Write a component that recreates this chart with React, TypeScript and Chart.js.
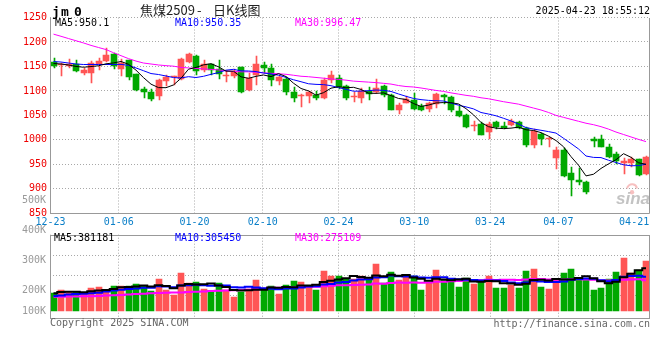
import React, { useEffect, useRef } from "react";
import { Chart, registerables } from "chart.js";
Chart.register(...registerables);

// ---------------- data ----------------
const dates = ["12-23","12-24","12-25","12-26","12-27","12-30","12-31","01-02","01-03","01-06","01-07","01-08","01-09","01-10","01-13","01-14","01-15","01-16","01-17","01-20","01-21","01-22","01-23","01-24","01-27","02-05","02-06","02-07","02-10","02-11","02-12","02-13","02-14","02-17","02-18","02-19","02-20","02-21","02-24","02-25","02-26","02-27","02-28","03-03","03-04","03-05","03-06","03-07","03-10","03-11","03-12","03-13","03-14","03-17","03-18","03-19","03-20","03-21","03-24","03-25","03-26","03-27","03-28","03-31","04-01","04-02","04-03","04-07","04-08","04-09","04-10","04-11","04-14","04-15","04-16","04-17","04-18","04-21","04-22","04-23"];
const xTickLabels = ["12-23","01-06","01-20","02-10","02-24","03-10","03-24","04-07","04-21"];

const openP = [1160,1152,1151,1154,1137,1137,1156,1162,1176,1145,1163,1134,1103,1098,1090,1120,1128,1125,1159,1171,1143,1154,1144,1130,1131,1148,1101,1132,1152,1146,1120,1125,1097,1089,1090,1091,1085,1122,1127,1110,1087,1085,1100,1098,1111,1091,1062,1076,1082,1070,1064,1073,1092,1087,1060,1051,1028,1032,1017,1037,1029,1031,1037,1024,989,1012,1001,962,980,933,918,913,1002,1002,985,972,953,953,960,931];
const closeP = [1151,1154,1154,1141,1142,1158,1162,1174,1150,1157,1129,1102,1098,1083,1122,1128,1130,1166,1176,1140,1154,1142,1134,1132,1139,1097,1127,1154,1146,1122,1128,1097,1086,1092,1097,1085,1122,1132,1107,1086,1090,1100,1094,1105,1091,1062,1071,1084,1063,1062,1075,1093,1088,1062,1049,1027,1030,1010,1032,1026,1024,1039,1025,989,1019,1002,1003,980,926,918,914,894,997,985,965,956,956,960,929,966];
const highP = [1168,1157,1165,1163,1146,1161,1168,1188,1177,1166,1164,1135,1108,1104,1124,1132,1131,1168,1178,1174,1164,1156,1164,1140,1145,1149,1137,1171,1160,1154,1131,1128,1107,1094,1099,1100,1127,1140,1132,1112,1097,1105,1108,1124,1113,1093,1076,1090,1095,1073,1078,1095,1093,1089,1070,1053,1039,1037,1036,1038,1037,1043,1039,1026,1022,1014,1005,985,983,945,943,916,1005,1009,992,975,963,965,961,967];
const lowP = [1146,1130,1146,1139,1132,1117,1142,1160,1144,1130,1122,1100,1085,1080,1081,1110,1112,1123,1158,1132,1138,1132,1124,1119,1127,1095,1100,1112,1137,1110,1113,1091,1077,1067,1076,1082,1084,1117,1104,1082,1078,1076,1082,1096,1088,1061,1053,1075,1061,1058,1056,1066,1073,1056,1047,1024,1019,1009,1001,1022,1022,1029,1022,985,983,990,985,941,924,886,907,890,985,985,962,951,931,945,926,929];

const ma5 = [1156,1155,1153,1150,1148.4,1149.8,1151.4,1155.4,1157.2,1160.2,1154.4,1142.4,1127.2,1113.8,1106.8,1106.6,1112.2,1125.8,1144.4,1148,1153.2,1155.6,1149.2,1140.4,1140.2,1128.8,1125.8,1129.8,1132.6,1129.2,1135.4,1129.4,1115.8,1105,1100,1091.4,1096.4,1105.6,1108.6,1106.4,1107.4,1103,1095.4,1095,1096,1090.4,1084.6,1082.6,1074.2,1068.4,1071,1075.4,1076.2,1076,1073.4,1063.8,1051.2,1035.6,1027,1024,1023,1024,1026,1020.6,1019.2,1014.8,1007.6,998.6,986,965.8,948.2,926.4,929.8,941.6,951,959.4,971.8,964.4,953.2,950.1];
const ma10 = [1160,1159,1157,1155,1154,1154,1154,1154,1154,1154.3,1152.1,1146.9,1141.3,1135.5,1133.5,1130.5,1127.3,1126.5,1129.1,1127.4,1129.9,1133.9,1137.5,1142.4,1144.1,1141,1140.7,1139.5,1136.5,1134.7,1132.1,1127.6,1122.8,1118.8,1114.6,1113.4,1112.9,1110.7,1106.8,1103.2,1099.4,1099.7,1100.5,1101.8,1101.2,1098.9,1093.8,1089,1084.6,1082.2,1080.7,1080,1079.4,1075.1,1070.9,1067.4,1063.3,1055.9,1052.8,1049.2,1044.1,1038.7,1032.4,1025.1,1022.1,1019.6,1016.9,1013.9,1003.3,992.5,981.5,967,964.2,963.8,958.4,953.8,949.1,947.1,947.4,950.35];
const ma30 = [1216,1211.6,1207,1202.5,1198,1193,1188.7,1184.5,1178,1172,1166,1161,1157,1155,1153,1151.6,1150.6,1148,1147,1146,1145,1144,1143,1141,1140,1139,1139,1138,1137,1136,1135,1134,1132,1130,1129,1127.5,1126,1124.5,1123.5,1122,1120,1119,1118,1117,1115.5,1114,1111,1109,1108,1106,1103.5,1101,1099,1096,1093.5,1091,1089,1086,1084,1081,1078,1075.5,1073,1069,1065,1061,1056,1050,1046,1042,1038,1034,1031,1027,1022,1016,1011,1006,1001,996.47];

// volume in thousands (lots)
const volume = [160,189,169,174,154,209,216,189,225,225,225,242,225,180,286,189,145,342,254,260,198,180,254,189,127,169,198,278,189,225,154,233,269,260,225,189,360,316,316,286,286,316,278,422,254,348,278,307,316,189,263,366,278,286,218,298,245,263,316,209,209,233,209,360,377,218,198,278,342,377,278,278,189,209,289,348,475,342,369,448];
const volMa5 = [160,172,173,173,169.2,179,184.4,188.4,198.6,212.8,216,221.2,228.4,219.4,231.6,224.4,205,228.4,243.2,238,239.8,246.8,229.2,216.2,189.6,183.8,187.4,192.2,192.2,211.8,208.8,215.8,214,228.2,228.2,235.2,260.6,270,281.2,293.4,312.8,304,296.4,317.6,311.2,323.6,316,321.8,300.6,287.6,270.6,288.2,282.4,276.4,282.2,289.2,265,262,268,266.2,248.4,246,235.2,244,277.6,279.4,272.4,286.2,282.6,282.6,294.6,310.6,292.8,266.2,248.6,262.6,302,332.6,364.6,381.181];
const volMa10 = [137,140,150,154,156,160,165,175,185,191,197.5,202.8,208.4,209,222.2,220.2,213.1,228.4,231.3,234.8,232.1,225.9,228.8,229.7,213.8,211.8,217.1,210.7,204.2,200.7,196.3,201.6,203.1,210.2,220,222,238.2,242,254.7,260.8,274,282.3,283.2,299.4,302.3,318.2,310,309.1,309.1,299.4,297.1,302.1,302.1,288.5,284.9,279.9,276.6,272.2,272.2,274.2,268.8,255.5,248.6,256,271.9,263.9,259.2,260.7,263.3,280.1,287,291.5,289.5,274.4,265.6,278.6,306.3,312.7,315.4,305.45];
const volMa30 = [130,130,131,132,133,135,137,140,143,146,150,154,157,160,162,164,166,168,171,174,177,180,182,184,186,189,192,196,201,208.8,208.6,210.1,213.4,216.3,218.7,218,222.8,227,230.1,232.1,234.1,236.6,238.4,246.4,245.4,250.7,255.1,253.9,256,253.6,255.8,262,262.8,266,269.1,273.4,274.9,274.4,278.7,278.1,280,280,278,281.3,286.4,287.3,281.9,280.7,281.5,284.6,284.3,283,280.1,273,274.1,274.1,280.7,281.9,283.6,275.109];
const volGridTicks = [142, 319, 492];
const volAxisLabels = ["500K", "400K", "300K", "200K", "100K"];

const titleCode = "jm0";
const titleText = "焦煤2509 - 日K线图";
const timeStamp = "2025-04-23 18:55:12";
const priceLegend = ["MA5:950.1", "MA10:950.35", "MA30:996.47"];
const volLegend = ["MA5:381181", "MA10:305450", "MA30:275109"];

// ---------------- styles ----------------
const UP = "#ff5555";
const DOWN = "#00a800";
const GRID = "#a8a8a8";
const FRAME = "#999999";
const MA_COLORS = ["#000000", "#0000ff", "#ff00ff"];
const MONO = "'DejaVu Sans Mono', monospace";

const idx = dates.map((_, i) => i);
const candleColors = idx.map((i) => (closeP[i] >= openP[i] ? UP : DOWN));
const tickIdx = xTickLabels.map((l) => dates.indexOf(l));

const X_MIN = -0.4667, X_MAX = 79.4; // candle axis
const XG_MIN = -0.066, XG_MAX = 78.96; // date/grid axis

function txt(ctx: CanvasRenderingContext2D, s: string, x: number, y: number, color: string, font: string, align: CanvasTextAlign = "left") {
  ctx.fillStyle = color;
  ctx.font = font;
  ctx.textAlign = align;
  ctx.textBaseline = "middle";
  ctx.fillText(s, x, y);
}

// snap bar elements (positioned by the scales) onto whole pixels for crisp candles
const pixelSnap = {
  id: "pixelSnap",
  afterDatasetsUpdate(chart: any) {
    chart.data.datasets.forEach((ds: any, di: number) => {
      const meta = chart.getDatasetMeta(di);
      if (meta.type !== "bar") return;
      const thin = ds.barThickness === 1;
      meta.data.forEach((el: any) => {
        el.x = Math.round(el.x) + (thin ? 0.5 : 0);
        el.y = Math.round(el.y);
        el.base = Math.round(el.base);
      });
    });
  },
};

const xAxes = (showLabels: boolean) => ({
  x: { type: "linear", min: X_MIN, max: X_MAX, display: false, offset: false, grid: { offset: false } },
  xg: {
    type: "linear",
    position: "bottom",
    min: XG_MIN,
    max: XG_MAX,
    offset: false,
    afterBuildTicks: (s: any) => { s.ticks = tickIdx.map((v) => ({ value: v })); },
    afterFit: (s: any) => { s.height = showLabels ? 16 : 0; },
    ticks: {
      display: showLabels,
      autoSkip: false,
      maxRotation: 0,
      padding: 3,
      color: "#0a7fc8",
      font: { family: MONO, size: 10 },
      callback: (v: any) => dates[v] ?? "",
    },
    grid: {
      offset: false,
      drawTicks: false,
      lineWidth: 1,
      color: (c: any) => (c.tick && c.tick.value === tickIdx[tickIdx.length - 1] ? "rgba(0,0,0,0)" : GRID),
    },
    border: { display: false, dash: [1, 2] },
  },
});

const mainOverlay = {
  id: "mainOverlay",
  beforeDatasetsDraw(chart: any) {
    const ctx = chart.ctx as CanvasRenderingContext2D;
    const a = chart.chartArea;
    ctx.save();
    // sina watermark
    ctx.strokeStyle = "rgba(240,140,140,0.55)";
    ctx.lineWidth = 2;
    ctx.beginPath();
    ctx.arc(a.right - 17, a.bottom - 24, 5, Math.PI * 1.05, Math.PI * 1.95);
    ctx.stroke();
    ctx.fillStyle = "rgba(240,140,140,0.55)";
    ctx.beginPath();
    ctx.arc(a.right - 17, a.bottom - 21, 2.2, 0, Math.PI * 2);
    ctx.fill();
    ctx.fillStyle = "rgba(175,175,175,0.75)";
    ctx.font = "italic bold 17px 'Liberation Sans', sans-serif";
    ctx.textAlign = "right";
    ctx.textBaseline = "alphabetic";
    ctx.fillText("sina", a.right + 1, a.bottom - 9);
    ctx.restore();
  },
  afterDatasetsDraw(chart: any) {
    const ctx = chart.ctx as CanvasRenderingContext2D;
    const a = chart.chartArea;
    const L = Math.round(a.left) + 0.5, R = Math.round(a.right) + 0.5;
    const T = Math.round(a.top), B = Math.round(a.bottom) + 0.5;
    ctx.save();
    ctx.strokeStyle = FRAME;
    ctx.lineWidth = 1;
    ctx.setLineDash([]);
    ctx.beginPath();
    ctx.moveTo(L, T); ctx.lineTo(L, B); ctx.lineTo(R, B); ctx.lineTo(R, T);
    ctx.stroke();
    ctx.restore();
  },
  afterDraw(chart: any) {
    const ctx = chart.ctx as CanvasRenderingContext2D;
    const a = chart.chartArea;
    ctx.save();
    const codeX = [52, 61, 74];
    titleCode.split("").forEach((ch, k) => {
      ctx.fillStyle = "#000";
      ctx.font = `bold 13px ${MONO}`;
      ctx.textAlign = "left";
      ctx.textBaseline = "alphabetic";
      ctx.fillText(ch, codeX[k], 16);
    });
    const parts = titleText.split(" ");
    const partX = [140, 197, 213];
    ctx.fillStyle = "#222";
    ctx.font = "13px 'Noto Sans CJK SC', sans-serif";
    ctx.textAlign = "left";
    ctx.textBaseline = "alphabetic";
    parts.forEach((p, k) => ctx.fillText(p, partX[k] ?? 140, 15));
    txt(ctx, timeStamp, 650, 11.5, "#000", `10px ${MONO}`, "right");
    const lx = [a.left + 5, a.left + 125, a.left + 245];
    priceLegend.forEach((s, k) => txt(ctx, s, lx[k], a.top + 6, MA_COLORS[k], `10px ${MONO}`));
    ctx.restore();
  },
};

const volOverlay = {
  id: "volOverlay",
  afterDatasetsDraw(chart: any) {
    const ctx = chart.ctx as CanvasRenderingContext2D;
    const a = chart.chartArea;
    const L = Math.round(a.left) + 0.5, R = Math.round(a.right) + 0.5;
    const T = Math.round(a.top) + 0.5, B = Math.round(a.bottom) + 0.5;
    ctx.save();
    ctx.strokeStyle = FRAME;
    ctx.lineWidth = 1;
    ctx.setLineDash([]);
    ctx.strokeRect(L, T, R - L, B - T);
    ctx.restore();
  },
  afterDraw(chart: any) {
    const ctx = chart.ctx as CanvasRenderingContext2D;
    const a = chart.chartArea;
    const yv = chart.scales.yv;
    ctx.save();
    const lx = [a.left + 4, a.left + 125, a.left + 245];
    volLegend.forEach((s, k) => txt(ctx, s, lx[k], a.top + 4, MA_COLORS[k], `10px ${MONO}`));
    const base = yv.getPixelForValue(0);
    const offs = [110.5, 80.5, 50.5, 20.5, 0];
    volAxisLabels.forEach((s, k) => txt(ctx, s, a.left - 4, base - offs[k], "#9a9a9a", `10px ${MONO}`, "right"));
    txt(ctx, "Copyright 2025 SINA.COM", a.left, a.bottom + 5.5, "#666", `10px ${MONO}`);
    txt(ctx, "http://finance.sina.com.cn", a.right + 1, a.bottom + 6, "#666", `10px ${MONO}`, "right");
    ctx.restore();
  },
};

function lineDs(label: string, vals: number[], color: string, yAxisID: string, width: number, stepped: any) {
  return {
    type: "line" as const,
    label,
    data: idx.map((i) => ({ x: i, y: vals[i] })),
    borderColor: color,
    backgroundColor: color,
    borderWidth: width,
    pointRadius: 0,
    tension: 0,
    fill: false,
    stepped,
    xAxisID: "x",
    yAxisID,
    order: 0,
  };
}

export default function App() {
  const r1 = useRef<HTMLCanvasElement>(null);
  const r2 = useRef<HTMLCanvasElement>(null);

  useEffect(() => {
    const main = new Chart(r1.current as HTMLCanvasElement, {
      type: "bar",
      data: {
        datasets: [
          lineDs("MA5", ma5, MA_COLORS[0], "y", 1, false),
          lineDs("MA10", ma10, MA_COLORS[1], "y", 1, false),
          lineDs("MA30", ma30, MA_COLORS[2], "y", 1, false),
          {
            type: "bar",
            label: "body",
            data: idx.map((i) => ({ x: i, y: [Math.min(openP[i], closeP[i]), Math.max(openP[i], closeP[i])] })),
            backgroundColor: candleColors,
            barThickness: 6,
            minBarLength: 1,
            grouped: false,
            xAxisID: "x",
            yAxisID: "y",
            order: 1,
          },
          {
            type: "bar",
            label: "wick",
            data: idx.map((i) => ({ x: i, y: [lowP[i], highP[i]] })),
            backgroundColor: candleColors,
            barThickness: 1,
            grouped: false,
            xAxisID: "x",
            yAxisID: "y",
            order: 2,
          },
        ] as any,
      },
      options: {
        animation: false,
        responsive: false,
        devicePixelRatio: 1,
        events: [],
        layout: { padding: { left: 0, right: 11, top: 17.5, bottom: 360 - 213.3 - 16 } },
        plugins: { legend: { display: false }, tooltip: { enabled: false }, title: { display: false } },
        scales: {
          ...xAxes(true),
          y: {
            type: "linear",
            position: "left",
            min: 850,
            max: 1250,
            afterFit: (s: any) => { s.width = 50; },
            ticks: { stepSize: 50, padding: 3, color: "#ee0000", font: { family: MONO, size: 10 }, callback: (v: any) => String(v) },
            grid: { drawTicks: false, color: GRID, lineWidth: 1 },
            border: { display: false, dash: [1, 2] },
          },
        } as any,
      },
      plugins: [pixelSnap, mainOverlay],
    });

    const vol = new Chart(r2.current as HTMLCanvasElement, {
      type: "bar",
      data: {
        datasets: [
          lineDs("VMA5", volMa5, MA_COLORS[0], "yv", 2, "middle"),
          lineDs("VMA10", volMa10, MA_COLORS[1], "yv", 2, "middle"),
          lineDs("VMA30", volMa30, MA_COLORS[2], "yv", 2, "middle"),
          {
            type: "bar",
            label: "volume",
            data: idx.map((i) => ({ x: i, y: volume[i] })),
            backgroundColor: candleColors,
            barThickness: 6,
            grouped: false,
            xAxisID: "x",
            yAxisID: "yv",
            order: 1,
          },
        ] as any,
      },
      options: {
        animation: false,
        responsive: false,
        devicePixelRatio: 1,
        events: [],
        layout: { padding: { left: 0, right: 11, top: 234.7, bottom: 360 - 318.3 } },
        plugins: { legend: { display: false }, tooltip: { enabled: false }, title: { display: false } },
        scales: {
          ...xAxes(false),
          yv: {
            type: "linear",
            position: "left",
            min: -61,
            max: 678,
            afterFit: (s: any) => { s.width = 50; },
            afterBuildTicks: (s: any) => { s.ticks = volGridTicks.map((v) => ({ value: v })); },
            ticks: { display: false },
            grid: { drawTicks: false, color: GRID, lineWidth: 1 },
            border: { display: false, dash: [1, 2] },
          },
        } as any,
      },
      plugins: [pixelSnap, volOverlay],
    });

    return () => {
      main.destroy();
      vol.destroy();
    };
  }, []);

  const cs: React.CSSProperties = { position: "absolute", left: 0, top: 0, width: 660, height: 360 };
  return (
    <div style={{ position: "absolute", left: 0, top: 0, width: 660, height: 360, background: "#fff", overflow: "hidden" }}>
      <canvas ref={r1} width={660} height={360} style={cs} />
      <canvas ref={r2} width={660} height={360} style={cs} />
    </div>
  );
}
